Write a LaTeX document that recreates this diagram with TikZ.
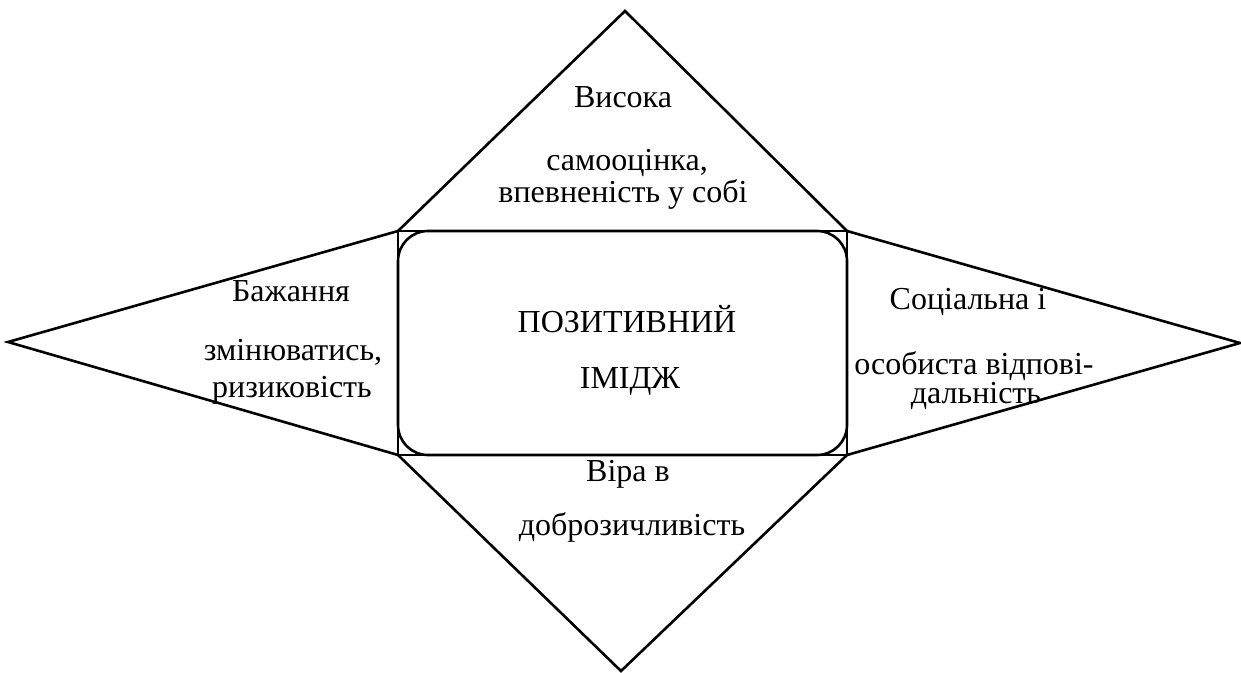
\documentclass[tikz,border=0pt]{standalone}
\usepackage{fontspec}
\setmainfont{Liberation Serif}[Script=Cyrillic]
\begin{document}
\begin{tikzpicture}[x=0.5pt,y=-0.5pt,
  shape line/.style={draw=black,line width=1.3pt,line join=miter},
  lbl/.style={anchor=base,inner sep=0pt,font=\fontsize{16pt}{19pt}\selectfont}]
\useasboundingbox (0,0) rectangle (1241,673);
% corners of the central box
\coordinate (tl) at (398,231);
\coordinate (tr) at (847,231);
\coordinate (bl) at (398,455);
\coordinate (br) at (847,455);
% apexes
\coordinate (top) at (625,11);
\coordinate (bot) at (621,671);
\coordinate (lft) at (8,342);
\coordinate (rgt) at (1240,343);
% shapes
\draw[shape line] (tl) rectangle (br);
\draw[shape line,rounded corners=15pt] (tl) rectangle (br);
\draw[shape line] (tl) -- (top) -- (tr);
\draw[shape line] (bl) -- (bot) -- (br);
\draw[shape line] (tl) -- (lft) -- (bl);
\draw[shape line] (tr) -- (rgt) -- (br);
% texts
\node[lbl] (t1) at (623,108) {Висока};
\node[lbl] (t2) at (627,171) {самооцінка,};
\node[lbl] (t3) at (623,203) {впевненість у собі};
\node[lbl] (l1) at (291,302) {Бажання};
\node[lbl] (l2) at (293,361) {змінюватись,};
\node[lbl] (l3) at (292,397) {ризиковість};
\node[lbl] (c1) at (627,333) {ПОЗИТИВНИЙ};
\node[lbl] (c2) at (630,388) {ІМІДЖ};
\node[lbl] (r1) at (968,310) {Соціальна і};
\node[lbl] (r2) at (974,374) {особиста відпові-};
\node[lbl] (r3) at (976,403) {дальність};
\node[lbl] (b1) at (628,481) {Віра в};
\node[lbl] (b2) at (632,535) {доброзичливість};
\end{tikzpicture}
\end{document}
